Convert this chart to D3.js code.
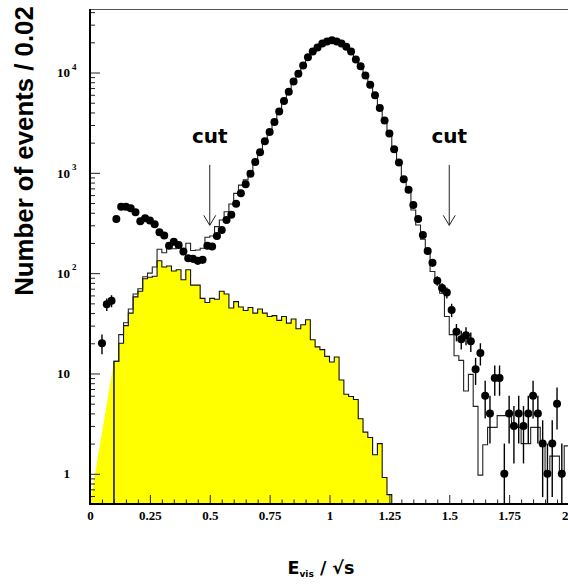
<!DOCTYPE html>
<html>
<head>
<meta charset="utf-8">
<script src="https://cdn.jsdelivr.net/npm/d3@7"></script>
<style>
  html, body { margin: 0; padding: 0; background: #fff; overflow: hidden; }
  svg { display: block; }
</style>
</head>
<body>
<script>
// Histogram binning: 100 bins of width 0.02 on E_vis/sqrt(s) in [0, 2]
const binEdges = d3.range(101).map(i => +(i * 0.02).toFixed(2));

// Observed events per bin (drawn as points with sqrt(N) errors)
const dataCounts = [
  0, 0, 20, 49, 53, 347, 459, 459, 443, 404,
  329, 352, 334, 307, 256, 237, 188, 206, 191, 164,
  141, 139, 133, 136, 188, 184, 235, 269, 339, 383,
  491, 625, 770, 977, 1286, 1607, 2066, 2556, 3214, 4077,
  5195, 6445, 8160, 9730, 11770, 14230, 16220, 17760, 19460, 20380,
  20990, 20380, 19460, 18050, 16220, 13490, 11580, 9360, 7560, 5920,
  4430, 3320, 2465, 1722, 1268, 865, 678, 477, 347, 240,
  166, 127, 84, 71, 64, 43, 26, 22, 24, 21,
  11, 16, 6, 4, 9, 9, 1, 4, 3, 4,
  3, 4, 6, 4, 2, 1, 2, 5, 1, 0
];

// Total simulation (signal + background), open step histogram
const mcTotal = [
  0, 0, 0, 0, 0, 13.2, 24.4, 32, 44, 62,
  70, 92, 100, 115, 173, 160, 199, 175, 191, 164,
  199, 168, 170, 177, 228, 235, 291, 339, 409, 489,
  624, 755, 850, 1050, 1330, 1680, 2120, 2620, 3250, 4150,
  5250, 6500, 8250, 9800, 11900, 14100, 16300, 18000, 19600, 20600,
  21000, 20500, 19500, 17900, 16000, 13600, 11500, 9200, 7400, 5800,
  4350, 3250, 2400, 1700, 1230, 850, 640, 426, 302, 218,
  158, 104, 80, 63, 37, 24.4, 15, 13.5, 6.7, 9.8,
  4.7, 0.97, 1.95, 2.9, 2.9, 3.8, 3.8, 3.8, 2.9, 2.9,
  2, 2, 2.9, 2.9, 1.9, 1, 1.5, 1.5, 1, 1.9
];

// Background simulation, filled histogram
const background = [
  0, 0, 0, 0, 0, 13.2, 20, 30, 40, 58,
  66, 88, 91, 93, 133, 115, 118, 105, 108, 86,
  108, 76, 76, 56, 51, 56, 55, 66, 62, 45,
  52, 46, 42.5, 45.5, 40, 44, 40, 37, 37.7, 33.8,
  37, 31.8, 34.9, 27.9, 30.6, 34.3, 21.7, 18.4, 17.3, 14.8,
  13, 14.6, 8.6, 6.2, 5.9, 5.5, 3.54, 2.6, 2.3, 1.55,
  2.0, 0.92, 0.62, 0, 0, 0, 0, 0, 0, 0,
  0, 0, 0, 0, 0, 0, 0, 0, 0, 0,
  0, 0, 0, 0, 0, 0, 0, 0, 0, 0,
  0, 0, 0, 0, 0, 0, 0, 0, 0, 0
];

const xTickMajor = [0, 0.25, 0.5, 0.75, 1, 1.25, 1.5, 1.75, 2];
const xTickLabels = ["0", "0.25", "0.5", "0.75", "1", "1.25", "1.5", "1.75", "2"];
const yDecades = [1, 10, 100, 1000, 10000];
const yDecadeLabels = [["1", ""], ["10", ""], ["10", "2"], ["10", "3"], ["10", "4"]];
const cutValues = [0.5, 1.5];
const cutArrowSpan = [1200, 300];   // arrow from / to, in events

const W = 568, H = 587;
const svg = d3.select("body").append("svg").attr("width", W).attr("height", H);

const x = d3.scaleLinear().domain([0, 2]).range([90, 569]);
const y = d3.scaleLog().domain([0.5, 42000]).range([504, 10]);
const yFloor = y.domain()[0];
const yv = v => y(Math.max(v, yFloor));

const plot = svg.append("g");

// ---- background (yellow) ----
const firstBg = background.findIndex(v => v > 0);
const lastBg = background.length - 1 - [...background].reverse().findIndex(v => v > 0);
const bgPts = [[x(0), y(yFloor)]];
for (let i = firstBg; i <= lastBg; i++) {
  bgPts.push([x(binEdges[i]), yv(background[i])]);
  bgPts.push([x(binEdges[i + 1]), yv(background[i])]);
}
bgPts.push([x(binEdges[lastBg + 1]), y(yFloor)]);
plot.append("path")
  .attr("d", d3.line()(bgPts) + "Z")
  .attr("fill", "#ffff00")
  .attr("stroke", "none");

const bgOutline = [[x(binEdges[firstBg]), y(yFloor)]].concat(bgPts.slice(1));
plot.append("path")
  .attr("d", d3.line()(bgOutline))
  .attr("fill", "none")
  .attr("stroke", "#111")
  .attr("stroke-width", 1.1);

// ---- total simulation step line ----
const firstMc = mcTotal.findIndex(v => v > 0);
const mcPts = [[x(binEdges[firstMc]), y(yFloor)]];
for (let i = firstMc; i < mcTotal.length; i++) {
  mcPts.push([x(binEdges[i]), yv(mcTotal[i])]);
  mcPts.push([x(binEdges[i + 1]), yv(mcTotal[i])]);
}
plot.append("path")
  .attr("d", d3.line()(mcPts))
  .attr("fill", "none")
  .attr("stroke", "#222")
  .attr("stroke-width", 1.1);

// ---- data points with error bars ----
const pts = dataCounts.map((n, i) => ({
  xc: (binEdges[i] + binEdges[i + 1]) / 2, n
})).filter(d => d.n > 0);

plot.selectAll("line.err").data(pts).enter().append("line")
  .attr("class", "err")
  .attr("x1", d => x(d.xc)).attr("x2", d => x(d.xc))
  .attr("y1", d => yv(d.n - Math.sqrt(d.n)))
  .attr("y2", d => yv(d.n + Math.sqrt(d.n)))
  .attr("stroke", "#000").attr("stroke-width", 1.4);

plot.selectAll("circle.pt").data(pts).enter().append("circle")
  .attr("class", "pt")
  .attr("cx", d => x(d.xc)).attr("cy", d => y(d.n))
  .attr("r", 4).attr("fill", "#000");

// ---- cut arrows ----
cutValues.forEach(c => {
  const cx = x(c), y0 = y(cutArrowSpan[0]), y1 = y(cutArrowSpan[1]);
  svg.append("line").attr("x1", cx).attr("x2", cx).attr("y1", y0).attr("y2", y1)
    .attr("stroke", "#222").attr("stroke-width", 1);
  svg.append("path")
    .attr("d", `M${cx - 6},${y1 - 10}L${cx},${y1}L${cx + 6},${y1 - 10}`)
    .attr("fill", "none").attr("stroke", "#222").attr("stroke-width", 1);
  svg.append("text").attr("x", cx).attr("y", y0 - 22)
    .attr("text-anchor", "middle")
    .attr("font-family", "DejaVu Sans").attr("font-weight", "bold")
    .attr("font-size", 20).attr("fill", "#000")
    .text("cut");
});

// ---- axes ----
const xMinor = d3.range(0, 2.001, 0.05).map(v => +v.toFixed(2)).filter(v => !xTickMajor.includes(v));
svg.append("g").attr("transform", "translate(0,504)")
  .call(d3.axisTop(x).tickValues(xTickMajor).tickSize(9).tickFormat(""))
  .call(g => g.select(".domain").remove())
  .call(g => g.selectAll("line").attr("stroke", "#222"));
svg.append("g").attr("transform", "translate(0,504)")
  .call(d3.axisTop(x).tickValues(xMinor).tickSize(4.5).tickFormat(""))
  .call(g => g.select(".domain").remove())
  .call(g => g.selectAll("line").attr("stroke", "#222"));

svg.append("g").attr("transform", "translate(0,504)")
  .call(d3.axisBottom(x).tickValues(xTickMajor).tickSize(0)
    .tickFormat((d, i) => xTickLabels[i]).tickPadding(7))
  .call(g => g.select(".domain").remove())
  .call(g => g.selectAll("text")
    .attr("font-family", "Liberation Serif").attr("font-weight", "bold")
    .attr("font-size", 13).attr("fill", "#000"))
  // the last label sits on the window edge; keep it inside
  .call(g => g.selectAll(".tick").filter(d => d === 2).select("text")
    .attr("text-anchor", "end").attr("x", -1));

const yMinor = [];
[0.1, 1, 10, 100, 1000, 10000].forEach(d => {
  for (let k = 2; k <= 9; k++) {
    const v = d * k;
    if (v >= 0.5 && v <= 42000) yMinor.push(v);
  }
});
svg.append("g").attr("transform", "translate(90,0)")
  .call(d3.axisRight(y).tickValues(yDecades).tickSize(10).tickFormat(""))
  .call(g => g.select(".domain").remove())
  .call(g => g.selectAll("line").attr("stroke", "#222"));
svg.append("g").attr("transform", "translate(90,0)")
  .call(d3.axisRight(y).tickValues(yMinor).tickSize(5).tickFormat(""))
  .call(g => g.select(".domain").remove())
  .call(g => g.selectAll("line").attr("stroke", "#222"));

yDecades.forEach((v, i) => {
  svg.append("text")
    .attr("x", 70).attr("y", y(v)).attr("dy", "0.36em")
    .attr("text-anchor", "end")
    .attr("font-family", "Liberation Serif").attr("font-weight", "bold")
    .attr("font-size", 13).attr("fill", "#000")
    .text(yDecadeLabels[i][0]);
  if (yDecadeLabels[i][1]) {
    svg.append("text")
      .attr("x", 72).attr("y", y(v) - 3)
      .attr("font-family", "Liberation Serif").attr("font-weight", "bold")
      .attr("font-size", 9).attr("fill", "#000")
      .text(yDecadeLabels[i][1]);
  }
});

// frame
svg.append("line").attr("x1", 90).attr("x2", 569).attr("y1", 9.5).attr("y2", 9.5)
  .attr("stroke", "#555").attr("stroke-width", 1);
svg.append("line").attr("x1", 90).attr("x2", 90).attr("y1", 9).attr("y2", 505)
  .attr("stroke", "#000").attr("stroke-width", 2);
svg.append("line").attr("x1", 89).attr("x2", 569).attr("y1", 504).attr("y2", 504)
  .attr("stroke", "#000").attr("stroke-width", 2);

// axis titles
svg.append("text")
  .attr("transform", "translate(33,151) rotate(-90)")
  .attr("text-anchor", "middle")
  .attr("font-family", "Liberation Sans").attr("font-weight", "bold")
  .attr("font-size", 25.8).attr("fill", "#000")
  .text("Number of events / 0.02");

const xt = svg.append("text")
  .attr("x", 321).attr("y", 574)
  .attr("text-anchor", "middle")
  .attr("font-family", "DejaVu Sans").attr("font-weight", "bold")
  .attr("font-size", 17.5).attr("fill", "#000");
xt.append("tspan").text("E");
xt.append("tspan").attr("font-size", 9).attr("dy", 3).text("vis");
xt.append("tspan").attr("dy", -3).text(" / \u221As");
</script>
</body>
</html>
